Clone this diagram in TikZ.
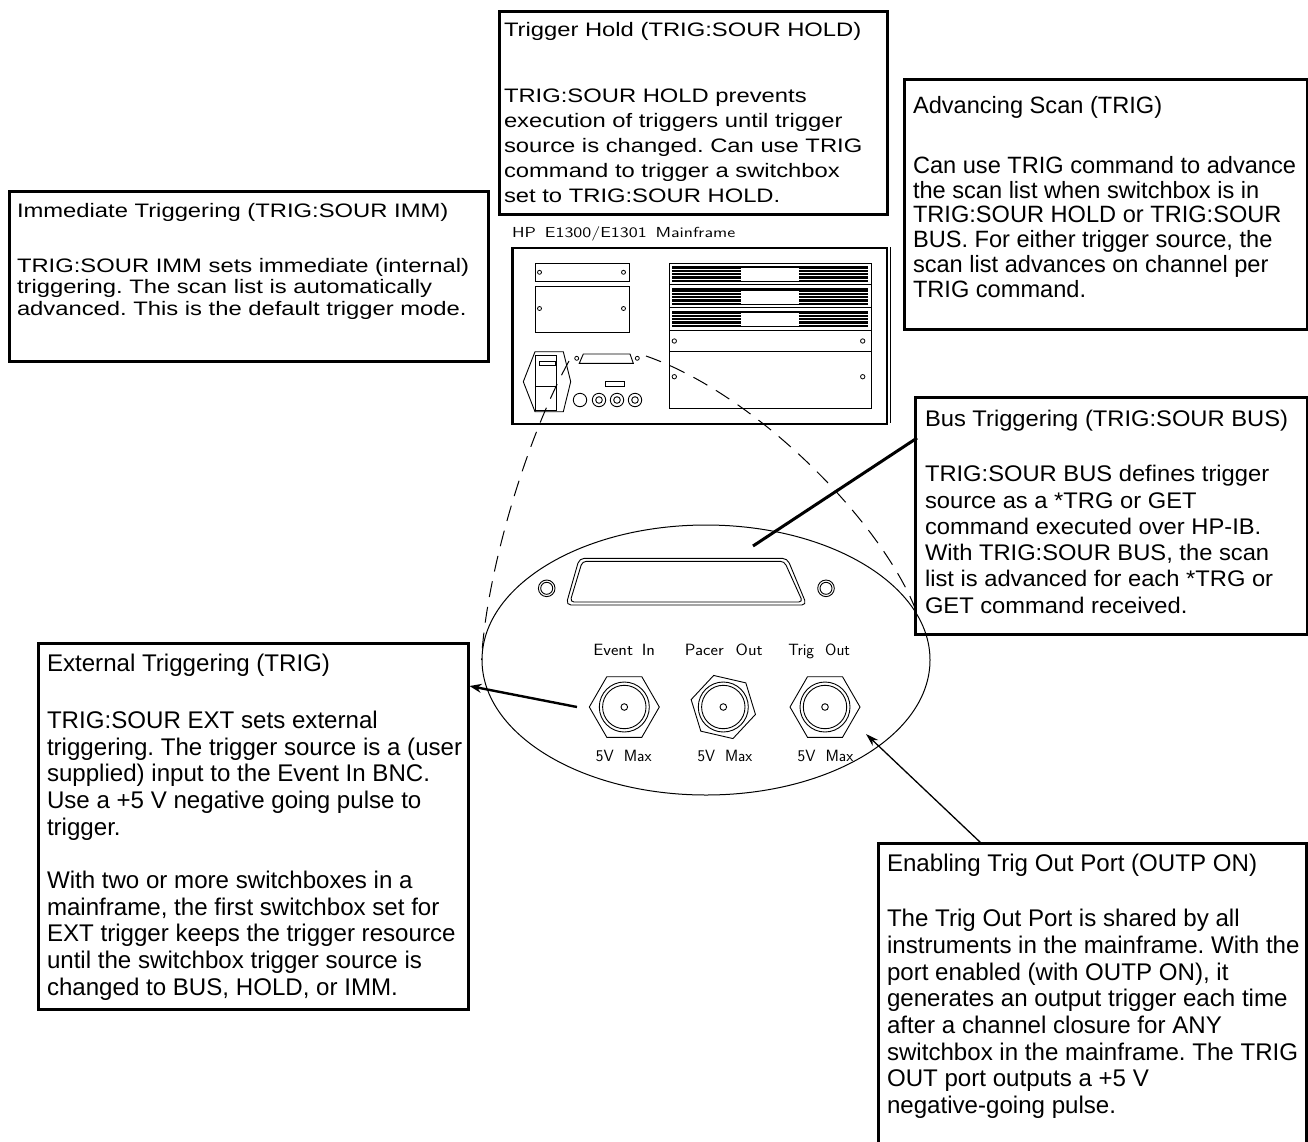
\documentclass[tikz,border=0pt]{standalone}
\usepackage{fontspec}
\usepackage{graphicx}
\setmainfont{Liberation Sans}
\newfontfamily\fSt[FakeStretch=1.22]{Liberation Sans}
\newfontfamily\fBu[FakeStretch=1.05]{Liberation Sans}
\usetikzlibrary{arrows.meta,shapes.geometric}
\newcommand\txtlines[2]{\vtop{\baselineskip=#1pt\lineskiplimit=-1000pt\lineskip=0pt\relax #2}}
\frenchspacing
\tikzset{
  box/.style={draw, line width=2.8pt, inner sep=0pt, anchor=north west},
  tx/.style={anchor=base west, inner sep=0pt, outer sep=0pt},
  fine/.style={line width=0.9pt},
  dashln/.style={line width=1pt, dash pattern=on 16pt off 10pt},
  cadA/.style={inner sep=0pt, anchor=base west, font=\sffamily\fontsize{14.5}{16}\selectfont},
  cadB/.style={inner sep=0pt, anchor=base, font=\sffamily\fontsize{16.3}{18}\selectfont},
  fSmall/.style={font=\fSt\fontsize{19.5}{22}\selectfont},
  fBig/.style={font=\fontsize{24.1}{26.7}\selectfont},
  fAdv/.style={font=\fontsize{23.6}{24.8}\selectfont},
  fBus/.style={font=\fBu\fontsize{22.6}{26.3}\selectfont},
}
\begin{document}
\begin{tikzpicture}[x=1pt,y=-1pt]
\useasboundingbox (0,0) rectangle (1308,1141);
\fill[white] (0,0) rectangle (1308,1141);
\begin{scope}
\clip (0,0) rectangle (1308,1141);

% ---------- text boxes ----------
\node[box, minimum width=388pt, minimum height=203pt] (hold) at (498,10) {};
\node[tx, fSmall] (holdT) at (504,36) {Trigger Hold (TRIG:SOUR HOLD)};
\node[tx, fSmall] (holdB) at (504,102) {\txtlines{25}{%
\hbox{TRIG:SOUR HOLD prevents}%
\hbox{execution of triggers until trigger}%
\hbox{source is changed. Can use TRIG}%
\hbox{command to trigger a switchbox}%
\hbox{set to TRIG:SOUR HOLD.}}};

\node[box, minimum width=479pt, minimum height=170pt] (imm) at (8,190) {};
\node[tx, fSmall] (immT) at (17,217) {Immediate Triggering (TRIG:SOUR IMM)};
\node[tx, fSmall] (immB) at (17,272) {\txtlines{21.8}{%
\hbox{TRIG:SOUR IMM sets immediate (internal)}%
\hbox{triggering. The scan list is automatically}%
\hbox{advanced. This is the default trigger mode.}}};

\node[box, minimum width=403pt, minimum height=250pt] (adv) at (903,78) {};
\node[tx, fAdv] (advT) at (913,113) {Advancing Scan (TRIG)};
\node[tx, fAdv] (advB) at (913,173.3) {\txtlines{24.8}{%
\hbox{Can use TRIG command to advance}%
\hbox{the scan list when switchbox is in}%
\hbox{TRIG:SOUR HOLD or TRIG:SOUR}%
\hbox{BUS. For either trigger source, the}%
\hbox{scan list advances on channel per}%
\hbox{TRIG command.}}};

\node[box, minimum width=392pt, minimum height=237pt] (bus) at (914,396) {};
\node[tx, fBus] (busT) at (925,426.7) {Bus Triggering (TRIG:SOUR BUS)};
\node[tx, fBus] (busBd) at (925,481.7) {\txtlines{26.3}{%
\hbox{TRIG:SOUR BUS defines trigger}%
\hbox{source as a *TRG or GET}%
\hbox{command executed over HP-IB.}%
\hbox{With TRIG:SOUR BUS, the scan}%
\hbox{list is advanced for each *TRG or}%
\hbox{GET command received.}}};

\node[box, minimum width=430pt, minimum height=366pt] (ext) at (37,642) {};
\node[tx, fBig] (extT) at (47,671.7) {External Triggering (TRIG)};
\node[tx, fBig] (extB) at (47,728.3) {\txtlines{26.7}{%
\hbox{TRIG:SOUR EXT sets external}%
\hbox{triggering. The trigger source is a (user}%
\hbox{supplied) input to the Event In BNC.}%
\hbox{Use a +5 V negative going pulse to}%
\hbox{trigger.}%
\hbox{}%
\hbox{With two or more switchboxes in a}%
\hbox{mainframe, the first switchbox set for}%
\hbox{EXT trigger keeps the trigger resource}%
\hbox{until the switchbox trigger source is}%
\hbox{changed to BUS, HOLD, or IMM.}}};

\node[box, minimum width=428pt, minimum height=330pt] (enab) at (877,842) {};
\node[tx, fBig] (enabT) at (887,871.7) {Enabling Trig Out Port (OUTP ON)};
\node[tx, fBig] (enabB) at (887,926.7) {\txtlines{26.7}{%
\hbox{The Trig Out Port is shared by all}%
\hbox{instruments in the mainframe. With the}%
\hbox{port enabled (with OUTP ON), it}%
\hbox{generates an output trigger each time}%
\hbox{after a channel closure for ANY}%
\hbox{switchbox in the mainframe. The TRIG}%
\hbox{OUT port outputs a +5 V}%
\hbox{negative-going pulse.}}};

% ---------- mainframe ----------
\node[cadA] (mflabel) at (512,237) {\resizebox{223pt}{\height}{HP\hspace{7pt}E1300/E1301\hspace{7pt}Mainframe}};
\node[draw, line width=2pt, minimum width=374pt, minimum height=176pt, inner sep=0pt, anchor=north west] (mf) at (512,247) {};
\draw[line width=3pt] (mf.north west) -- (mf.south west);
\draw[line width=1pt] (890,247) -- (890,423);

% left panels
\draw[fine] (535,263.3) rectangle (629.3,281);
\draw[fine] (535,286.7) rectangle (629.3,332.3);
\foreach \px/\py in {539.5/272.3, 623.5/272.3, 539.5/308.5, 623.5/308.5}
  \draw[line width=0.8pt] (\px,\py) circle (2);

% module block
\draw[fine] (669.3,263.3) rectangle (871.7,408.3);
\foreach \yd in {284.8, 307.8, 330, 351.7}
  \draw[fine] (669.3,\yd) -- (871.7,\yd);
\foreach \ya/\yb in {266/282, 288.3/305.2, 310.7/327} {
  \fill[black] (671.7,\ya) rectangle (868.3,\yb);
  \foreach \k in {1,...,4}
    \draw[white, line width=0.35pt] (671.7,{\ya+\k*(\yb-\ya)/5}) -- (868.3,{\ya+\k*(\yb-\ya)/5});
  \fill[white] (740.7,{\ya+2.3}) rectangle (799,{\yb-1.3});
}
\foreach \px/\py in {674.3/341, 862.7/341, 674.3/376.7, 862.7/376.7}
  \draw[line width=0.8pt] (\px,\py) circle (2.2);

% power inlet
\draw[fine] (535,351.7) -- (563.3,351.7) -- (570.7,381.7) -- (563.3,411.7) -- (535,411.7) -- (523.3,381.7) -- cycle;
\draw[fine] (535.7,355.7) rectangle (556.7,410);
\draw[fine] (539,361) rectangle (555,365.5);
\draw[fine] (535.7,386.7) -- (556.7,386.7);

% small D-sub, small rectangle, round sockets
\draw[fine] (579.3,363.3) -- (583.3,354) -- (630,354) -- (633.3,363.3) -- cycle;
\draw[line width=0.8pt] (576.7,358.3) circle (2);
\draw[line width=0.8pt] (637.3,358.3) circle (2);
\draw[fine] (605,381.7) rectangle (624.3,386.7);
\draw[fine] (580,400) circle (6.7);
\foreach \cx in {599,617,635} {
  \draw[fine] (\cx,400) circle (6.7);
  \draw[fine] (\cx,400) circle (3.3);
}

% ---------- enlarged panel ----------
\node[draw, ellipse, line width=1pt, minimum width=448pt, minimum height=270pt, inner sep=0pt] (ell) at (706,660) {};

\draw[fine, rounded corners=5pt] (579.3,558.3) -- (787.3,558.3) -- (806.7,605) -- (566,605) -- cycle;
\draw[fine, rounded corners=4pt] (582.3,561.3) -- (784.3,561.3) -- (802.7,602) -- (570,602) -- cycle;
\foreach \cx in {546.7,826} {
  \draw[fine] (\cx,588.3) circle (8.3);
  \draw[fine] (\cx,588.3) circle (6);
}

\foreach \cx/\rr/\rot in {624.3/35/0, 723.3/33/13, 825/35/0}
  \draw[fine] (\cx,707) +(\rot:\rr) -- +(\rot+60:\rr) -- +(\rot+120:\rr) -- +(\rot+180:\rr) -- +(\rot+240:\rr) -- +(\rot+300:\rr) -- cycle;
\node[draw, circle, fine, minimum size=50pt, inner sep=0pt] (bncA) at (624.3,707) {};
\node[draw, circle, fine, minimum size=50pt, inner sep=0pt] (bncB) at (723.3,707) {};
\node[draw, circle, fine, minimum size=50pt, inner sep=0pt] (bncC) at (825,707) {};
\foreach \b in {bncA,bncB,bncC} {
  \draw[fine] (\b) circle (21.7);
  \draw[fine] (\b) circle (3.3);
}

\node[cadB] (lblA) at (624.2,655) {\resizebox{61.7pt}{\height}{Event\hspace{8pt}In}};
\node[cadB] (lblB) at (723.8,655) {\resizebox{77.7pt}{\height}{Pacer\hspace{11pt}Out}};
\node[cadB] (lblC) at (819.2,655) {\resizebox{61.7pt}{\height}{Trig\hspace{11pt}Out}};
\node[cadB] (maxA) at (623.8,761.7) {\resizebox{55.7pt}{\height}{5V\hspace{10pt}Max}};
\node[cadB] (maxB) at (725,761.7) {\resizebox{54.7pt}{\height}{5V\hspace{10pt}Max}};
\node[cadB] (maxC) at (825.5,761.7) {\resizebox{55.7pt}{\height}{5V\hspace{10pt}Max}};

% ---------- connectors ----------
\coordinate (dL) at (569,361);
\draw[dashln] (dL) .. controls (525,441) and (486,575) .. (ell.west);
\coordinate (dR) at (646,356);
\draw[dashln] (dR) .. controls (758,395) and (885,525) .. (ell.12);

\coordinate (busA) at (753,546);
\coordinate (busB) at (917,438);
\draw[line width=3pt] (busA) -- (busB);

\coordinate (extA) at (577,707);
\coordinate (extB) at (469.5,686);
\draw[line width=2.4pt, -{Stealth[length=12pt,width=9pt]}] (extA) -- (extB);

\coordinate (enA) at (981,843);
\coordinate (enB) at (866,734);
\draw[line width=1.3pt, -{Stealth[length=13pt,width=8pt]}] (enA) -- (enB);
\end{scope}
\end{tikzpicture}
\end{document}
